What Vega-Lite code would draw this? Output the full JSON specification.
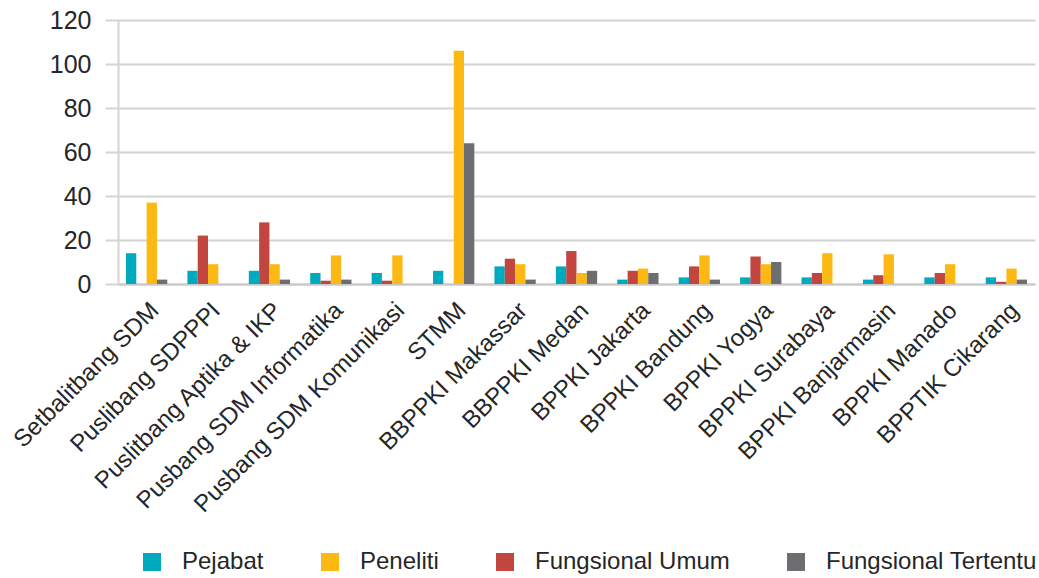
{
  "$schema": "https://vega.github.io/schema/vega-lite/v6.json",
  "autosize": {"type": "none"},
  "width": 917,
  "height": 264,
  "padding": {"left": 118, "top": 20, "right": 4, "bottom": 294},
  "background": "white",
  "config": {
    "view": {"stroke": null},
    "font": "Liberation Sans"
  },
  "data": {
    "values": [
      {"unit": "Setbalitbang SDM", "series": "Pejabat", "value": 14},
      {"unit": "Setbalitbang SDM", "series": "Fungsional Umum", "value": 0},
      {"unit": "Setbalitbang SDM", "series": "Peneliti", "value": 37},
      {"unit": "Setbalitbang SDM", "series": "Fungsional Tertentu", "value": 2},
      {"unit": "Puslibang SDPPPI", "series": "Pejabat", "value": 6},
      {"unit": "Puslibang SDPPPI", "series": "Fungsional Umum", "value": 22},
      {"unit": "Puslibang SDPPPI", "series": "Peneliti", "value": 9},
      {"unit": "Puslibang SDPPPI", "series": "Fungsional Tertentu", "value": 0},
      {"unit": "Puslitbang Aptika & IKP", "series": "Pejabat", "value": 6},
      {"unit": "Puslitbang Aptika & IKP", "series": "Fungsional Umum", "value": 28},
      {"unit": "Puslitbang Aptika & IKP", "series": "Peneliti", "value": 9},
      {"unit": "Puslitbang Aptika & IKP", "series": "Fungsional Tertentu", "value": 2},
      {"unit": "Pusbang SDM Informatika", "series": "Pejabat", "value": 5},
      {"unit": "Pusbang SDM Informatika", "series": "Fungsional Umum", "value": 1.5},
      {"unit": "Pusbang SDM Informatika", "series": "Peneliti", "value": 13},
      {"unit": "Pusbang SDM Informatika", "series": "Fungsional Tertentu", "value": 2},
      {"unit": "Pusbang SDM Komunikasi", "series": "Pejabat", "value": 5},
      {"unit": "Pusbang SDM Komunikasi", "series": "Fungsional Umum", "value": 1.5},
      {"unit": "Pusbang SDM Komunikasi", "series": "Peneliti", "value": 13},
      {"unit": "Pusbang SDM Komunikasi", "series": "Fungsional Tertentu", "value": 0},
      {"unit": "STMM", "series": "Pejabat", "value": 6},
      {"unit": "STMM", "series": "Fungsional Umum", "value": 0},
      {"unit": "STMM", "series": "Peneliti", "value": 106},
      {"unit": "STMM", "series": "Fungsional Tertentu", "value": 64},
      {"unit": "BBPPKI Makassar", "series": "Pejabat", "value": 8},
      {"unit": "BBPPKI Makassar", "series": "Fungsional Umum", "value": 11.5},
      {"unit": "BBPPKI Makassar", "series": "Peneliti", "value": 9},
      {"unit": "BBPPKI Makassar", "series": "Fungsional Tertentu", "value": 2},
      {"unit": "BBPPKI Medan", "series": "Pejabat", "value": 8},
      {"unit": "BBPPKI Medan", "series": "Fungsional Umum", "value": 15},
      {"unit": "BBPPKI Medan", "series": "Peneliti", "value": 5},
      {"unit": "BBPPKI Medan", "series": "Fungsional Tertentu", "value": 6},
      {"unit": "BPPKI Jakarta", "series": "Pejabat", "value": 2},
      {"unit": "BPPKI Jakarta", "series": "Fungsional Umum", "value": 6},
      {"unit": "BPPKI Jakarta", "series": "Peneliti", "value": 7},
      {"unit": "BPPKI Jakarta", "series": "Fungsional Tertentu", "value": 5},
      {"unit": "BPPKI Bandung", "series": "Pejabat", "value": 3},
      {"unit": "BPPKI Bandung", "series": "Fungsional Umum", "value": 8},
      {"unit": "BPPKI Bandung", "series": "Peneliti", "value": 13},
      {"unit": "BPPKI Bandung", "series": "Fungsional Tertentu", "value": 2},
      {"unit": "BPPKI Yogya", "series": "Pejabat", "value": 3},
      {"unit": "BPPKI Yogya", "series": "Fungsional Umum", "value": 12.5},
      {"unit": "BPPKI Yogya", "series": "Peneliti", "value": 9},
      {"unit": "BPPKI Yogya", "series": "Fungsional Tertentu", "value": 10},
      {"unit": "BPPKI Surabaya", "series": "Pejabat", "value": 3},
      {"unit": "BPPKI Surabaya", "series": "Fungsional Umum", "value": 5},
      {"unit": "BPPKI Surabaya", "series": "Peneliti", "value": 14},
      {"unit": "BPPKI Surabaya", "series": "Fungsional Tertentu", "value": 0},
      {"unit": "BPPKI Banjarmasin", "series": "Pejabat", "value": 2},
      {"unit": "BPPKI Banjarmasin", "series": "Fungsional Umum", "value": 4},
      {"unit": "BPPKI Banjarmasin", "series": "Peneliti", "value": 13.5},
      {"unit": "BPPKI Banjarmasin", "series": "Fungsional Tertentu", "value": 0},
      {"unit": "BPPKI Manado", "series": "Pejabat", "value": 3},
      {"unit": "BPPKI Manado", "series": "Fungsional Umum", "value": 5},
      {"unit": "BPPKI Manado", "series": "Peneliti", "value": 9},
      {"unit": "BPPKI Manado", "series": "Fungsional Tertentu", "value": 0},
      {"unit": "BPPTIK Cikarang", "series": "Pejabat", "value": 3},
      {"unit": "BPPTIK Cikarang", "series": "Fungsional Umum", "value": 1},
      {"unit": "BPPTIK Cikarang", "series": "Peneliti", "value": 7},
      {"unit": "BPPTIK Cikarang", "series": "Fungsional Tertentu", "value": 2}
    ]
  },
  "mark": {"type": "bar"},
  "encoding": {
    "x": {
      "field": "unit",
      "type": "nominal",
      "sort": null,
      "scale": {"paddingInner": 0.328, "paddingOuter": 0.13},
      "axis": {
        "title": null,
        "labelAngle": -45,
        "labelFontSize": 24,
        "labelColor": "#262626",
        "labelPadding": 14,
        "labelLimit": 400,
        "ticks": false,
        "domainColor": "#c8c8c8",
        "domainWidth": 2
      }
    },
    "xOffset": {
      "field": "series",
      "type": "nominal",
      "sort": ["Pejabat", "Fungsional Umum", "Peneliti", "Fungsional Tertentu"],
      "scale": {"paddingInner": 0, "paddingOuter": 0}
    },
    "y": {
      "field": "value",
      "type": "quantitative",
      "scale": {"domain": [0, 120], "nice": false},
      "axis": {
        "title": null,
        "values": [0, 20, 40, 60, 80, 100, 120],
        "labelFontSize": 25,
        "labelColor": "#262626",
        "labelPadding": 14,
        "tickSize": 13,
        "tickColor": "#d4d4d4",
        "tickWidth": 2,
        "domainColor": "#d4d4d4",
        "domainWidth": 2,
        "gridColor": "#d4d4d4",
        "gridWidth": 2
      }
    },
    "color": {
      "field": "series",
      "type": "nominal",
      "sort": ["Pejabat", "Peneliti", "Fungsional Umum", "Fungsional Tertentu"],
      "scale": {
        "domain": ["Pejabat", "Peneliti", "Fungsional Umum", "Fungsional Tertentu"],
        "range": ["#00AABE", "#FDB913", "#C0463F", "#6D6E71"]
      },
      "legend": {
        "title": null,
        "orient": "none",
        "direction": "horizontal",
        "legendX": 22,
        "legendY": 530,
        "symbolType": "square",
        "symbolSize": 324,
        "symbolStrokeWidth": 0,
        "labelFontSize": 24,
        "labelColor": "#262626",
        "labelOffset": 18,
        "columnPadding": 54,
        "labelLimit": 400,
        "padding": 0
      }
    }
  }
}
